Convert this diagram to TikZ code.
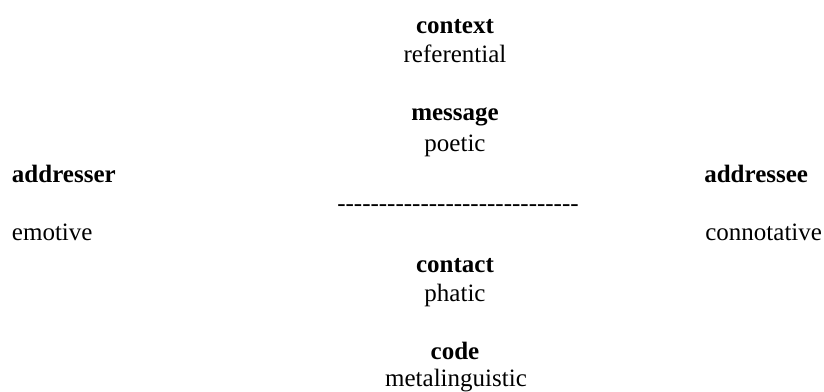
\documentclass[tikz,border=0pt]{standalone}
\usepackage{fontspec}
\setmainfont{Liberation Serif}
\begin{document}
\begin{tikzpicture}[x=1pt,y=-1pt,
  lbl/.style={inner sep=0pt,outer sep=0pt,font=\fontsize{25}{30}\selectfont},
  hd/.style={lbl,font=\fontsize{25}{30}\selectfont\bfseries}]
\useasboundingbox (0,0) rectangle (824,391);
\node[hd,anchor=base] (context) at (455,33) {context};
\node[lbl,anchor=base] (referential) at (455,62) {referential};
\node[hd,anchor=base] (message) at (455,120) {message};
\node[lbl,anchor=base] (poetic) at (455,151) {poetic};
\node[hd,anchor=base west] (addresser) at (12,182) {addresser};
\node[lbl,anchor=base west] (emotive) at (12,240) {emotive};
\node[hd,anchor=base east] (addressee) at (808,182) {addressee};
\node[lbl,anchor=base east] (connotative) at (822,240) {connotative};
\node[lbl,anchor=base] (dashes) at (458,211) {-{}-{}-{}-{}-{}-{}-{}-{}-{}-{}-{}-{}-{}-{}-{}-{}-{}-{}-{}-{}-{}-{}-{}-{}-{}-{}-{}-{}-};
\node[hd,anchor=base] (contact) at (455,272) {contact};
\node[lbl,anchor=base] (phatic) at (455,301) {phatic};
\node[hd,anchor=base] (code) at (455,359) {code};
\node[lbl,anchor=base] (metaling) at (456,386) {metalinguistic};
\end{tikzpicture}
\end{document}
